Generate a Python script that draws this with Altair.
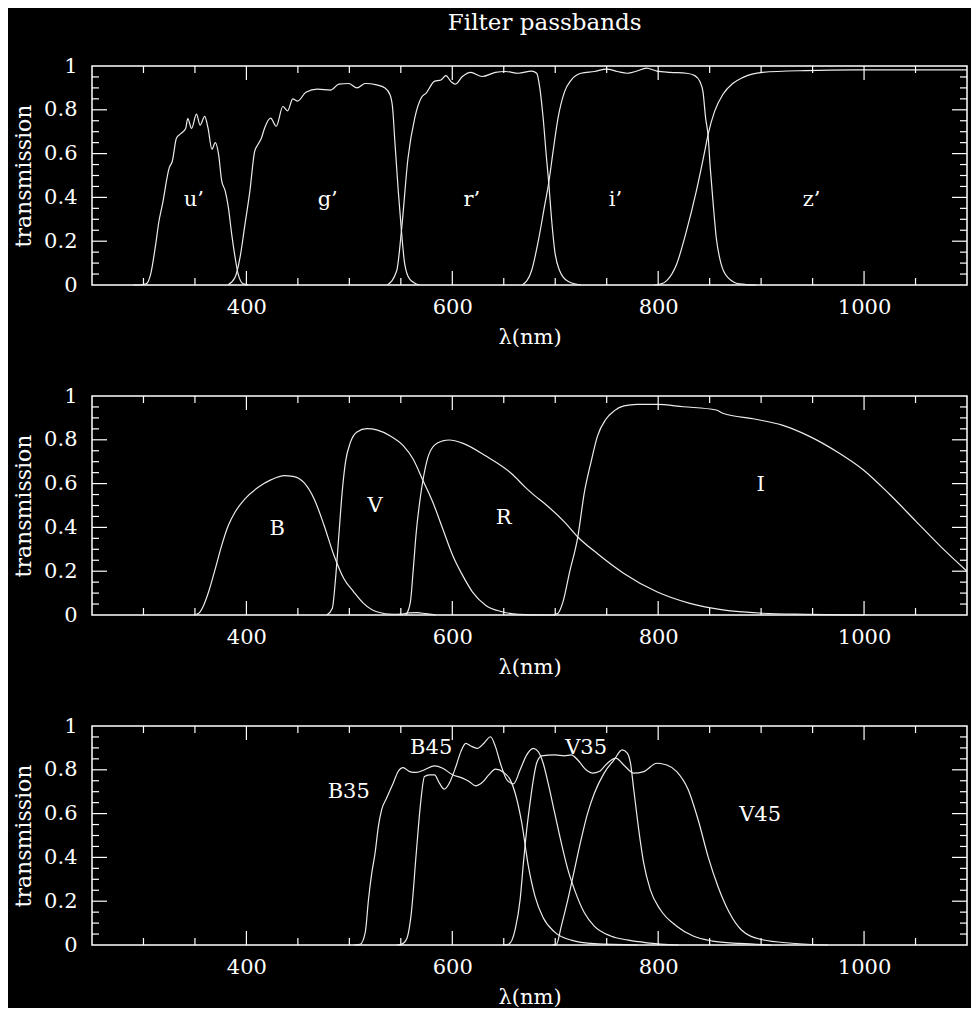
import altair as alt
import pandas as pd

# ---------------- data ----------------
# Panel 1: u' g' r' i' z'
u_wl = [290, 296, 302.5, 307, 312, 315, 318.5, 325, 328, 332, 336, 341, 343, 346.7, 351.5, 355, 359.5, 362.7, 366.5, 369.8, 373, 376, 379.4, 382.5, 385.7, 389, 392, 397, 402]
u_t = [0, 0, 0.005, 0.05, 0.19, 0.29, 0.37, 0.535, 0.565, 0.67, 0.69, 0.715, 0.76, 0.715, 0.78, 0.73, 0.77, 0.717, 0.62, 0.65, 0.595, 0.475, 0.43, 0.353, 0.232, 0.126, 0.05, 0.005, 0]

g_wl = [382, 389, 393.8, 398.6, 403.4, 408, 411, 414.5, 417.7, 423.5, 429, 435.4, 440, 445, 449.8, 457.8, 469, 481.8, 489.8, 499.4, 507.4, 515.4, 526.6, 534.6, 539.4, 542, 544.2, 547.5, 550.6, 553.8, 558.6, 568]
g_t = [0, 0.035, 0.126, 0.277, 0.43, 0.61, 0.64, 0.67, 0.717, 0.762, 0.725, 0.815, 0.795, 0.85, 0.84, 0.88, 0.894, 0.89, 0.917, 0.92, 0.90, 0.92, 0.914, 0.9, 0.87, 0.81, 0.656, 0.43, 0.247, 0.095, 0.027, 0]

r_wl = [537, 546, 550.6, 557, 563.4, 570, 574.6, 582.6, 589, 593.8, 598.6, 602.8, 609.8, 617.8, 629, 641.9, 651.5, 664.2, 677, 682, 685, 688.3, 691.5, 693.7, 696.3, 699.5, 704.3, 712.3, 725]
r_t = [0, 0.065, 0.247, 0.58, 0.76, 0.856, 0.876, 0.93, 0.936, 0.956, 0.93, 0.917, 0.952, 0.971, 0.952, 0.971, 0.975, 0.967, 0.977, 0.967, 0.9, 0.76, 0.58, 0.467, 0.308, 0.156, 0.065, 0.017, 0]

i_wl = [668, 677, 683.5, 689.9, 693.7, 697.9, 702.7, 709.1, 715.5, 725, 738, 750, 760.3, 769.9, 779.5, 788.5, 798.7, 811.5, 827.5, 835.6, 840.4, 843.5, 846.1, 848.4, 850.6, 853.2, 856.4, 861.2, 867.6, 878.9, 895]
i_t = [0, 0.065, 0.2, 0.368, 0.467, 0.61, 0.762, 0.883, 0.936, 0.967, 0.975, 0.986, 0.975, 0.967, 0.977, 0.99, 0.977, 0.971, 0.967, 0.956, 0.93, 0.883, 0.762, 0.686, 0.535, 0.384, 0.217, 0.095, 0.035, 0.005, 0]

z_wl = [796, 803, 808.3, 817.9, 827.5, 837.1, 845.2, 848.4, 854.8, 862.8, 872.4, 882, 901.2, 942.8, 990.8, 1100]
z_t = [0, 0.005, 0.02, 0.095, 0.247, 0.43, 0.61, 0.686, 0.793, 0.87, 0.92, 0.947, 0.971, 0.979, 0.982, 0.982]

# Panel 2: B V R I
B_wl = [349, 353.7, 358.5, 363.3, 369.8, 376, 382.5, 389, 398.6, 411.4, 424.2, 437, 445, 456.2, 465.8, 475.4, 485, 494.6, 504.2, 513.8, 526.6, 542.6, 550, 558, 566, 574, 584]
B_t = [0, 0.008, 0.045, 0.106, 0.212, 0.318, 0.41, 0.47, 0.53, 0.583, 0.618, 0.636, 0.633, 0.603, 0.53, 0.41, 0.273, 0.167, 0.106, 0.053, 0.015, 0.003, 0.004, 0.01, 0.011, 0.006, 0]

V_wl = [478, 483.4, 486.6, 489.8, 493, 496.2, 501, 507.4, 517, 526.6, 539.4, 552.3, 561.9, 571.5, 581.1, 590.7, 600.3, 609.9, 619.5, 632.3, 648.3, 664.2, 700]
V_t = [0, 0.03, 0.167, 0.364, 0.56, 0.697, 0.788, 0.836, 0.851, 0.845, 0.818, 0.773, 0.712, 0.614, 0.515, 0.394, 0.273, 0.182, 0.106, 0.045, 0.015, 0.003, 0]

R_wl = [555, 559.3, 561.9, 565, 568.3, 572, 576.3, 582.7, 590.7, 597, 609.9, 632.3, 658, 671, 680, 689.9, 709.1, 721.9, 741.1, 766.7, 798.7, 830.8, 862.8, 901.2, 942.8, 1000]
R_t = [0, 0.06, 0.197, 0.379, 0.515, 0.629, 0.72, 0.776, 0.795, 0.799, 0.785, 0.727, 0.644, 0.583, 0.545, 0.508, 0.424, 0.356, 0.28, 0.19, 0.106, 0.053, 0.023, 0.008, 0.003, 0]

I_wl = [698, 702.7, 707.5, 714, 721.9, 728.3, 734.7, 741.1, 749.2, 757.2, 766.7, 779.5, 798.7, 824.4, 856.4, 862.8, 894.7, 920.4, 946, 974.8, 1000, 1025, 1050, 1075, 1100]
I_t = [0, 0.008, 0.06, 0.197, 0.356, 0.56, 0.697, 0.818, 0.894, 0.932, 0.955, 0.962, 0.962, 0.951, 0.936, 0.921, 0.894, 0.867, 0.818, 0.742, 0.66, 0.55, 0.43, 0.31, 0.2]

# Panel 3: B35 B45 V35 V45
B35_wl = [505, 510.6, 515.4, 518.6, 521.8, 525, 528.2, 531.4, 536.2, 542.6, 547.4, 552.2, 558.6, 565, 573, 582.7, 590.7, 600.3, 609.9, 616.3, 622.7, 629, 635.5, 641.9, 649.9, 656.3, 661.1, 667.5, 673.9, 680.3, 688.3, 699.5, 715.5, 738, 780]
B35_t = [0, 0.003, 0.056, 0.208, 0.329, 0.42, 0.542, 0.618, 0.671, 0.739, 0.792, 0.81, 0.792, 0.788, 0.8, 0.818, 0.807, 0.777, 0.762, 0.747, 0.727, 0.742, 0.777, 0.803, 0.788, 0.754, 0.693, 0.557, 0.36, 0.223, 0.124, 0.059, 0.022, 0.006, 0]

B45_wl = [546, 550.6, 555.5, 560.2, 565, 568.9, 573, 577.9, 582.7, 587.5, 592.3, 597.1, 603.5, 608.3, 613.1, 617.9, 624.3, 630.7, 637.1, 641.9, 646.7, 653.1, 659.5, 665.9, 672.3, 678.7, 683.5, 688.3, 693.1, 699.5, 705.9, 712.3, 718.7, 728.3, 737.9, 753.9, 769.9, 789.1, 820]
B45_t = [0, 0.003, 0.026, 0.147, 0.42, 0.633, 0.769, 0.777, 0.777, 0.739, 0.712, 0.739, 0.815, 0.883, 0.921, 0.909, 0.898, 0.921, 0.951, 0.906, 0.83, 0.754, 0.736, 0.8, 0.868, 0.898, 0.883, 0.83, 0.739, 0.602, 0.466, 0.344, 0.253, 0.147, 0.086, 0.041, 0.023, 0.01, 0]

V35_wl = [650, 654.7, 661.1, 665.9, 669.1, 672.3, 675.5, 678.7, 681.9, 686.7, 699.5, 709.1, 715.5, 721.9, 729.9, 736.3, 742.7, 750.7, 758.7, 767, 776.3, 786, 798.8, 808.4, 818, 829.2, 838.8, 848.4, 858, 869.2, 880.4, 900, 930, 965]
V35_t = [0, 0.003, 0.071, 0.208, 0.375, 0.527, 0.648, 0.754, 0.83, 0.864, 0.868, 0.864, 0.868, 0.845, 0.8, 0.785, 0.792, 0.83, 0.853, 0.82, 0.785, 0.792, 0.83, 0.822, 0.792, 0.709, 0.572, 0.405, 0.268, 0.147, 0.071, 0.025, 0.008, 0]

V45_wl = [697, 701.1, 705.9, 712.3, 718.7, 725.1, 731.5, 738, 747.5, 757.1, 765.1, 770, 773.1, 776.3, 781.1, 785.9, 792.3, 802, 818, 834, 853, 879, 910]
V45_t = [0, 0.003, 0.086, 0.208, 0.344, 0.481, 0.602, 0.693, 0.785, 0.845, 0.891, 0.876, 0.83, 0.709, 0.527, 0.375, 0.253, 0.162, 0.086, 0.041, 0.018, 0.007, 0]

# labels
p1_labels = ["u\u2019", "g\u2019", "r\u2019", "i\u2019", "z\u2019"]
p1_lx = [349, 479, 619, 758.6, 949]
p1_ly = [0.39, 0.39, 0.39, 0.39, 0.39]

p2_labels = ["B", "V", "R", "I"]
p2_lx = [430, 525, 650, 899.6]
p2_ly = [0.394, 0.5, 0.442, 0.595]

p3_labels = ["B35", "B45", "V35", "V45"]
p3_lx = [499.4, 579.5, 730, 899]
p3_ly = [0.698, 0.9, 0.9, 0.593]

# tick positions
x_minor = [300, 350, 450, 500, 550, 650, 700, 750, 850, 900, 950, 1050]
x_major = [400, 600, 800, 1000]
y_minor = [0.05, 0.1, 0.15, 0.25, 0.3, 0.35, 0.45, 0.5, 0.55, 0.65, 0.7, 0.75, 0.85, 0.9, 0.95]
y_major = [0.2, 0.4, 0.6, 0.8]
y_labels = [0, 0.2, 0.4, 0.6, 0.8, 1]

# ---------------- chart ----------------
FONT = "DejaVu Serif"
FS = 21
W, H = 875, 219
LINE = "#ececec"

xscale = alt.Scale(domain=[250, 1100], nice=False, zero=False)
yscale = alt.Scale(domain=[0, 1], nice=False, zero=False)

xaxis = alt.Axis(values=x_major, format="d", ticks=False, domain=False, grid=False,
                 labelFont=FONT, labelFontSize=FS, labelColor="white", labelPadding=11,
                 labelFlush=False, labelBaseline="top",
                 title="\u03bb(nm)", titleFont=FONT, titleFontSize=21, titleFontWeight="normal",
                 titleColor="white", titlePadding=9)
yaxis = alt.Axis(values=y_labels, ticks=False, domain=False, grid=False,
                 labelExpr="datum.value == 0 || datum.value == 1 ? format(datum.value, 'd') : format(datum.value, '.1f')",
                 labelFont=FONT, labelFontSize=FS, labelColor="white", labelPadding=15,
                 labelFlush=False, labelBaseline="middle",
                 title="transmission", titleFont=FONT, titleFontSize=22, titleFontWeight="normal",
                 titleColor="white", titleAngle=-90, titleAlign="center", titleBaseline="middle",
                 titleX=-69, titleY=H / 2)


def curves_frame(curves):
    rows = []
    for name, wl, t in curves:
        for a, b in zip(wl, t):
            rows.append({"filter": name, "wl": a, "t": b})
    return pd.DataFrame(rows)


def tick_layers():
    layers = []
    for vals, ln in ((x_minor, 7), (x_major, 14)):
        d = pd.DataFrame({"wl": vals})
        base = alt.Chart(d).mark_rule(color="white", strokeWidth=1.2)
        layers.append(base.encode(x=alt.X("wl:Q", scale=xscale, axis=xaxis),
                                  y=alt.value(H), y2=alt.value(H - ln)))
        layers.append(base.encode(x=alt.X("wl:Q", scale=xscale, axis=xaxis),
                                  y=alt.value(0), y2=alt.value(ln)))
    for vals, ln in ((y_minor, 7), (y_major, 15)):
        d = pd.DataFrame({"t": vals})
        base = alt.Chart(d).mark_rule(color="white", strokeWidth=1.2)
        layers.append(base.encode(y=alt.Y("t:Q", scale=yscale, axis=yaxis),
                                  x=alt.value(0), x2=alt.value(ln)))
        layers.append(base.encode(y=alt.Y("t:Q", scale=yscale, axis=yaxis),
                                  x=alt.value(W), x2=alt.value(W - ln)))
    return layers


def panel(curves, labels, lx, ly):
    df = curves_frame(curves)
    lines = alt.Chart(df).mark_line(color=LINE, strokeWidth=1.2, interpolate="monotone").encode(
        x=alt.X("wl:Q", scale=xscale, axis=xaxis),
        y=alt.Y("t:Q", scale=yscale, axis=yaxis),
        detail="filter:N",
        order="wl:Q",
    )
    ldf = pd.DataFrame({"label": labels, "wl": lx, "t": ly})
    text = alt.Chart(ldf).mark_text(font=FONT, fontSize=FS, color="white",
                                    align="center", baseline="middle").encode(
        x=alt.X("wl:Q", scale=xscale, axis=xaxis),
        y=alt.Y("t:Q", scale=yscale, axis=yaxis),
        text="label:N",
    )
    return alt.layer(lines, text, *tick_layers()).properties(width=W, height=H)


p1 = panel([("u", u_wl, u_t), ("g", g_wl, g_t), ("r", r_wl, r_t), ("i", i_wl, i_t), ("z", z_wl, z_t)],
           p1_labels, p1_lx, p1_ly)
p2 = panel([("B", B_wl, B_t), ("V", V_wl, V_t), ("R", R_wl, R_t), ("I", I_wl, I_t)],
           p2_labels, p2_lx, p2_ly)
p3 = panel([("B35", B35_wl, B35_t), ("B45", B45_wl, B45_t), ("V35", V35_wl, V35_t), ("V45", V45_wl, V45_t)],
           p3_labels, p3_lx, p3_ly)

chart = alt.vconcat(
    p1, p2, p3, spacing=111, bounds="flush",
    title=alt.TitleParams("Filter passbands", font=FONT, fontSize=23, fontWeight="normal",
                          color="white", anchor="middle", offset=19, dx=54),
).properties(padding={"left": 3, "top": 4, "right": 0, "bottom": 0}
).configure(background="black").configure_view(stroke="white", strokeWidth=1.5)

chart.save("out.html", embed_options={"renderer": "svg", "actions": False})
